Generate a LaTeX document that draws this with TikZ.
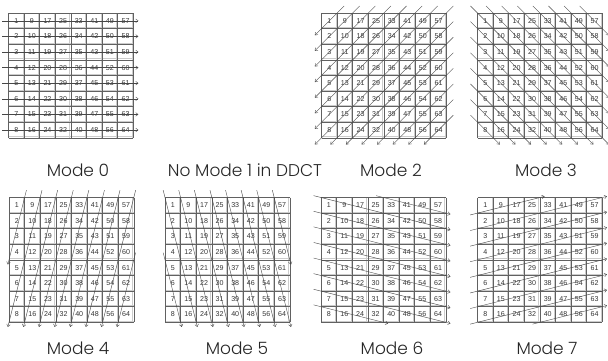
\documentclass[tikz,border=0pt]{standalone}
\usepackage{fontspec}
\setmainfont{Poppins}[UprightFont={* Light}]
\newfontfamily\numfont{Liberation Sans}
\usetikzlibrary{arrows.meta}
\tikzset{
  num/.style={font=\numfont\fontsize{7.1}{7}\selectfont, text=black!80, inner sep=0pt},
  gridline/.style={draw=black!62, line width=0.55pt},
  shadeline/.style={draw=black!20, line width=0.7pt},
  scanline/.style={draw=black!72, line width=0.4pt, -{Straight Barb[length=2.4pt,width=3.6pt]}},
  modelabel/.style={font=\fontsize{17}{20}\selectfont, text=black!85, anchor=base, inner sep=0pt},
  gridunit/.style={x=15.6pt, y=-15.6pt}
}
\newcommand{\seg}[8]{\draw[scanline] ({#1-(#7)*(#5)},{#2-(#7)*(#6)}) -- ({#3+(#8)*(#5)},{#4+(#8)*(#6)});}
\newcommand{\cellgrid}[1]{%
  \foreach \i in {1,...,8} {
    \draw[shadeline] ({\i-0.07},0) -- ({\i-0.07},8);
    \draw[shadeline] (0,{\i-0.07}) -- (8,{\i-0.07});
  }
  \foreach \i in {0,...,8} {
    \draw[gridline] (\i,0) -- (\i,8);
    \draw[gridline] (0,\i) -- (8,\i);
  }
  \foreach \r in {0,...,7} { \foreach \c in {0,...,7} {
    \pgfmathtruncatemacro{\n}{\c*8+\r+1}
    \node[num] (#1-\r-\c) at ({\c+0.5},{\r+0.5}) {\n};
  }}
}
\begin{document}
\begin{tikzpicture}[x=1pt, y=-1pt]
\useasboundingbox (0,0) rectangle (608,360);

% Mode 0
\begin{scope}[shift={(8.5pt,-13pt)}, gridunit]
  \cellgrid{m0}
  \foreach \r in {0,...,7} { \seg{0}{\r+0.5}{8}{\r+0.5}{1}{0}{0.4}{0.33} }
\end{scope}

% Mode 2
\begin{scope}[shift={(321.5pt,-13pt)}, gridunit]
  \cellgrid{m2}
  \foreach \k in {1,...,8} { \seg{\k}{0}{0}{\k}{-1}{1}{0.45}{0.43} }
  \foreach \k in {9,...,15} { \seg{8}{\k-8}{\k-8}{8}{-1}{1}{0.45}{0.43} }
\end{scope}

% Mode 3
\begin{scope}[shift={(477.5pt,-13pt)}, gridunit]
  \cellgrid{m3}
  \foreach \k in {0,...,7} { \seg{\k}{0}{8}{8-\k}{1}{1}{0.45}{0.43} }
  \foreach \k in {1,...,7} { \seg{0}{\k}{8-\k}{8}{1}{1}{0.45}{0.43} }
\end{scope}

% Mode 4
\begin{scope}[shift={(9pt,-197.5pt)}, gridunit]
  \cellgrid{m4}
  \seg{1}{0}{0}{4}{-0.25}{1}{0.47}{0.3}
  \foreach \k in {2,...,8} { \seg{\k}{0}{\k-2}{8}{-0.25}{1}{0.47}{0.3} }
  \seg{8}{4}{7}{8}{-0.25}{1}{0.47}{0.3}
\end{scope}

% Mode 5
\begin{scope}[shift={(165pt,-197.5pt)}, gridunit]
  \cellgrid{m5}
  \seg{0}{4}{1}{8}{0.25}{1}{0.47}{0.3}
  \foreach \m in {0,...,6} { \seg{\m}{0}{\m+2}{8}{0.25}{1}{0.47}{0.3} }
  \seg{7}{0}{8}{4}{0.25}{1}{0.47}{0.3}
\end{scope}

% Mode 6
\begin{scope}[shift={(321pt,-197.5pt)}, gridunit]
  \cellgrid{m6}
  \seg{4}{0}{8}{1}{1}{0.25}{0.47}{0.3}
  \foreach \k in {0,...,6} { \seg{0}{\k}{8}{\k+2}{1}{0.25}{0.47}{0.3} }
  \seg{0}{7}{4}{8}{1}{0.25}{0.47}{0.3}
\end{scope}

% Mode 7
\begin{scope}[shift={(477.5pt,-197.5pt)}, gridunit]
  \cellgrid{m7}
  \seg{0}{1}{4}{0}{1}{-0.25}{0.47}{0.3}
  \foreach \j in {2,...,8} { \seg{0}{\j}{8}{\j-2}{1}{-0.25}{0.47}{0.3} }
  \seg{4}{8}{8}{7}{1}{-0.25}{0.47}{0.3}
\end{scope}

% labels
\node[modelabel] (l0) at (78,176) {Mode 0};
\node[modelabel] (l1) at (245,176) {No Mode 1 in DDCT};
\node[modelabel] (l2) at (391,176) {Mode 2};
\node[modelabel] (l3) at (546,176) {Mode 3};
\node[modelabel] (l4) at (78,354) {Mode 4};
\node[modelabel] (l5) at (237,354) {Mode 5};
\node[modelabel] (l6) at (392,354) {Mode 6};
\node[modelabel] (l7) at (547,354) {Mode 7};
\end{tikzpicture}
\end{document}
